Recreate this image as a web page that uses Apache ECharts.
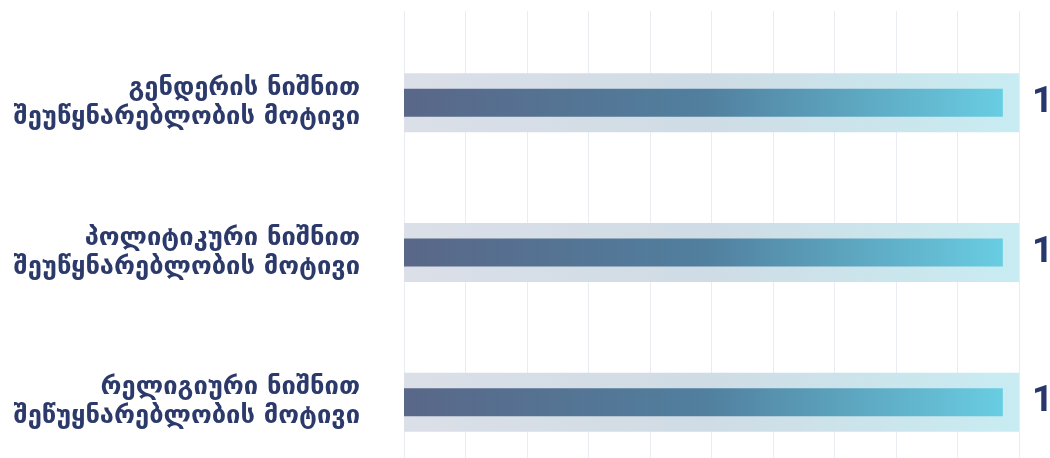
<!DOCTYPE html>
<html><head><meta charset="utf-8">
<script src="https://cdn.jsdelivr.net/npm/echarts@6/dist/echarts.min.js"></script>
<style>html,body{margin:0;padding:0;background:#fff;overflow:hidden}#c{width:1050px;height:480px}</style>
</head><body><div id="c"></div>
<script>
const categories = [
  'გენდერის ნიშნით\nშეუწყნარებლობის მოტივი',
  'პოლიტიკური ნიშნით\nშეუწყნარებლობის მოტივი',
  'რელიგიური ნიშნით\nშეწუყნარებლობის მოტივი'
];
const values = [1, 1, 1];
const axisMax = 1;
const axisInterval = 0.1;

const chart = echarts.init(document.getElementById('c'));
const G = echarts.graphic.LinearGradient;
chart.setOption({
  animation: false,
  grid: [
    {left: 404, right: 31, top: 11, bottom: 0},
    {left: 404, right: 31, top: 28, height: 449}
  ],
  xAxis: [
    {gridIndex: 0, type: 'value', min: 0, max: axisMax, interval: axisInterval,
     axisLabel: {show: false}, axisLine: {show: false}, axisTick: {show: false},
     splitLine: {show: true, lineStyle: {color: '#e9ecf3', width: 1}}},
    {gridIndex: 1, type: 'value', min: 0, max: axisMax, show: false, splitLine: {show: false}},
    {gridIndex: 1, type: 'value', min: 0, max: axisMax * 1.027, show: false, splitLine: {show: false}}
  ],
  yAxis: [
    {gridIndex: 0, type: 'category', data: categories, show: false},
    {gridIndex: 1, type: 'category', data: categories, inverse: true,
     axisLine: {show: false}, axisTick: {show: false}, splitLine: {show: false},
     axisLabel: {margin: 44, align: 'right', color: '#2c3a6b', fontSize: 25.5, fontWeight: 'bold',
       fontFamily: '"DejaVu Sans", sans-serif', lineHeight: 29}},
    {gridIndex: 1, type: 'category', data: categories, inverse: true, show: false}
  ],
  series: [
    {type: 'bar', xAxisIndex: 1, yAxisIndex: 1, data: values, barWidth: 59,
     itemStyle: {color: new G(0, 0, 1, 0, [
       {offset: 0, color: '#dbdfe8'}, {offset: 0.5, color: '#cfdce5'}, {offset: 1, color: '#c8ecf2'}])},
     label: {show: true, position: 'right', distance: 13, color: '#27366c', fontSize: 37,
       fontWeight: 'bold', fontFamily: 'Roboto, sans-serif'}},
    {type: 'bar', xAxisIndex: 2, yAxisIndex: 2, data: values, barWidth: 28,
     itemStyle: {color: new G(0, 0, 1, 0, [
       {offset: 0, color: '#596788'}, {offset: 0.5, color: '#517f9e'}, {offset: 1, color: '#69cde2'}])}}
  ]
});
</script></body></html>
